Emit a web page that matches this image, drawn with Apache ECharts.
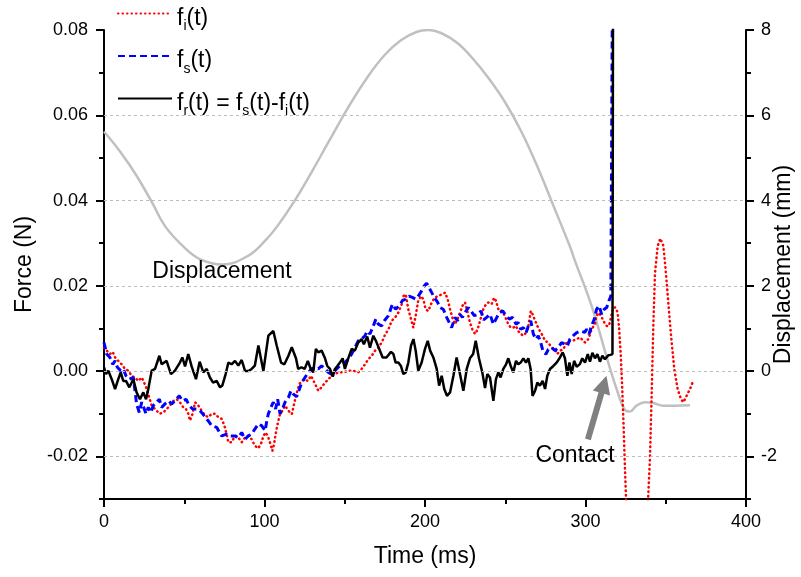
<!DOCTYPE html>
<html>
<head>
<meta charset="utf-8">
<script src="https://cdn.jsdelivr.net/npm/echarts@6/dist/echarts.min.js"></script>
<style>
  html, body { margin: 0; padding: 0; background: #fff; }
  #chart { width: 801px; height: 577px; }
</style>
</head>
<body>
<div id="chart"></div>
<script>
// ---------- data ----------
// f_i(t) (red dotted)
const fiT = [0,1.7,3.7,5.4,6.9,8.9,11,13.1,15.2,17.2,19.3,21.4,23.5,25.5,26.6,28.2,29.7,31.8,34.5,37,39,41.1,43.2,45.3,47.3,49.4,51.1,52.5,53.6,55.2,56.7,58.8,60.9,63,65,67.1,69.2,71.2,73.3,75,76.4,77.5,79.5,81.6,83.7,85.8,87.9,89.9,92,94,96.2,98.2,99.3,100.8,102.4,104,104.9,106,106.9,108.2,109.7,111.1,112.8,114.9,117,119.6,121.7,124.8,126.9,129,131.1,133.5,135.6,137.7,139.8,141.8,143.9,146,149.1,152.2,155.4,158.4,160.5,162.6,164.7,166.8,168.9,171,173,175.1,177.2,179.3,181.4,183.4,185.5,186.6,188,189.6,191.3,192.7,194.2,195.8,197.5,198.9,200.4,202,204.2,206.2,208.3,210.4,212.5,214.1,215.6,217,218.7,220.3,221.8,223.3,224.9,226.6,228,229.5,231.2,232.8,234.3,236.3,238,239.5,241.5,243,244.2,245.7,247.1,248.8,250.5,251.9,253.4,255,256.7,258.1,259.6,261.3,263,264.4,265.9,267.1,268.6,270,271.6,273.3,274.8,276.8,278.9,281,282.4,284.1,286.2,288.2,289.9,292,294.5,296.6,297.6,299.7,301.8,303.8,305.9,306.9,308.4,310.1,311.7,313.2,314.6,315.8,317.3,318.7,320,321,322,322.9,323.8,324.6,325.2,326,332,338,339.1,340.2,341.2,342.2,343.3,345,346.6,348.5,349.9,351.6,353.3,355.3,357.4,359.5,361,363,365.1,367.2];
const fiV = [0.0055,0.0048,0.004,0.0045,0.0032,0.0024,0.0016,0.0005,0.0001,-0.0011,-0.0015,-0.0023,-0.0015,-0.0031,-0.0042,-0.0062,-0.0081,-0.0089,-0.01,-0.0097,-0.0089,-0.0081,-0.007,-0.0066,-0.0073,-0.0085,-0.0089,-0.01,-0.0116,-0.01,-0.0073,-0.0081,-0.0093,-0.0104,-0.0108,-0.01,-0.01,-0.0108,-0.0112,-0.0128,-0.0148,-0.0167,-0.0167,-0.0152,-0.0156,-0.0167,-0.0156,-0.0152,-0.016,-0.0175,-0.0181,-0.0167,-0.0152,-0.0144,-0.0156,-0.0175,-0.0187,-0.0171,-0.0148,-0.0124,-0.01,-0.0093,-0.0081,-0.0093,-0.0101,-0.0058,-0.003,-0.0019,-0.0023,-0.0011,-0.0027,-0.0046,-0.0038,-0.0027,-0.0019,-0.0011,-0.0007,-0.0003,-0.0003,0.0001,0.0001,-0.0003,0.0005,0.0016,0.0028,0.0036,0.0048,0.0055,0.0067,0.0085,0.0098,0.0118,0.0126,0.0137,0.0157,0.0176,0.018,0.0145,0.0122,0.0102,0.013,0.0165,0.0176,0.0169,0.0145,0.0141,0.0161,0.0173,0.0176,0.018,0.0184,0.0169,0.0145,0.0126,0.011,0.0122,0.0137,0.0153,0.0161,0.0137,0.0114,0.0098,0.0087,0.0098,0.0118,0.0145,0.0157,0.0161,0.0157,0.0172,0.0165,0.0145,0.0145,0.0137,0.0122,0.011,0.0102,0.0102,0.0106,0.0094,0.0087,0.0083,0.009,0.0106,0.0141,0.0133,0.0118,0.0106,0.0094,0.0083,0.0071,0.0067,0.0055,0.0051,0.004,0.0048,0.0051,0.0067,0.0071,0.0071,0.0075,0.0079,0.0075,0.0067,0.0075,0.0098,0.011,0.013,0.0137,0.0126,0.0114,0.0106,0.0106,0.011,0.0149,0.0149,0.0137,0.0098,0.0036,-0.0042,-0.0136,-0.023,-0.0292,-0.04,-0.065,-0.04,-0.0292,-0.02,-0.0058,0.0098,0.023,0.0294,0.0311,0.0294,0.0239,0.0161,0.0083,0.0005,-0.0042,-0.0066,-0.0073,-0.0058,-0.0042,-0.0022];

// f_s(t) (blue dashed)
const fsT = [0,1.7,3.7,5.4,6.9,8.3,10.4,12,13.7,15.8,18.3,20.3,22,23.5,24.5,26.2,27.6,29.1,30.7,32.8,34.5,35.9,38,40.1,42.2,44.2,46.9,49,51.1,53.2,55.2,57.7,59.8,61.5,63.5,65,67.1,70.2,73.3,76.4,78.5,81.6,83.7,85.8,87.9,89.9,92,94,96.2,98.2,100.4,101.3,102.4,104,105.5,106.9,108.2,109.7,111.1,112.8,114.9,116.5,118,120,121.5,123.2,125.2,127.3,129.4,131.5,133.5,135.6,137.7,139.8,141.8,143.9,146,148,150.1,152.2,154.3,156.3,158.4,160.5,162.6,164,165.7,167.8,169.4,170.9,173,175,177.2,179.7,181.7,183.8,185.9,188,190,192.1,194.2,195.8,197.9,199.6,201,202.5,204.2,205.8,207.9,209.3,211.4,213.5,215.6,216.6,218.7,220.3,221.8,223.3,224.9,227,228.7,230.7,232.8,234.9,236.5,238.4,240.5,242.6,244.2,246.3,248.4,250.5,252.5,254.6,256.7,258.1,259.6,261.3,263,264.4,265.9,267.5,269.2,270.6,272.1,273.7,275.4,276.8,278.9,281,283,285.1,287.2,288.7,290.3,292.4,294.5,296.6,297.6,299.6,300.7,302.2,303.8,305.5,306.9,308.4,310.1,311.7,313.2,314.6,315.8,316.9];
const fsV = [0.0067,0.004,0.0032,0.0016,0.0024,0.0009,0.0001,0.0005,-0.0011,-0.0019,-0.0015,-0.0077,-0.0097,-0.0073,-0.007,-0.01,-0.0085,-0.0097,-0.0081,-0.0073,-0.0066,-0.0085,-0.0077,-0.007,-0.0077,-0.007,-0.0058,-0.007,-0.0066,-0.0081,-0.0089,-0.0089,-0.0093,-0.01,-0.011,-0.0117,-0.0128,-0.0132,-0.0152,-0.0148,-0.0152,-0.0152,-0.0156,-0.0144,-0.016,-0.0152,-0.0148,-0.0136,-0.0124,-0.0128,-0.014,-0.012,-0.01,-0.0085,-0.0073,-0.0089,-0.0066,-0.01,-0.0089,-0.0073,-0.0062,-0.0046,-0.0054,-0.006,-0.0045,-0.0027,-0.0015,-0.0003,0.0005,0.0009,0.0005,0.0012,0.0005,-0.0003,-0.0007,0.0001,0.0009,0.0016,0.002,0.0028,0.004,0.0055,0.0071,0.0075,0.0083,0.0094,0.0087,0.0106,0.0122,0.011,0.0106,0.012,0.013,0.0157,0.0145,0.0153,0.0165,0.0169,0.0176,0.0173,0.0169,0.0176,0.0188,0.02,0.0206,0.0196,0.0184,0.0173,0.0161,0.0149,0.0145,0.0126,0.011,0.0102,0.0126,0.0118,0.0133,0.0126,0.0137,0.0149,0.0141,0.013,0.0133,0.0141,0.012,0.0126,0.0133,0.011,0.0122,0.0137,0.0141,0.013,0.0122,0.0126,0.011,0.0114,0.0098,0.0102,0.009,0.0106,0.0118,0.0087,0.0075,0.0083,0.0067,0.0044,0.004,0.0051,0.0055,0.0048,0.0055,0.0067,0.0063,0.0059,0.0075,0.0083,0.009,0.0094,0.0098,0.0091,0.0098,0.0087,0.0106,0.0122,0.0145,0.0153,0.0133,0.0145,0.0149,0.0165,0.0176,0.1];

// f_r(t) (black solid)
const frT = [0,1.3,2.7,4.8,6.9,8.9,10.4,12,13.7,15.8,18.3,20.3,22.4,24.5,26.2,27.6,29.7,31.8,34.5,35.9,39,41.7,44.2,47.3,48.8,50.5,52.5,54.6,57.3,59.6,61.9,64,66,68,70.2,72.3,73.7,75.8,77.5,79.5,81.6,83.7,85.8,87.9,90,92,94,96.2,99.3,102.4,105.5,107.6,110.3,112.4,114.9,117,119.6,121,123,125,127,128.8,130.4,132,133.5,135.6,137.7,139.1,140.8,142.5,143.9,145.4,147,148.7,150.1,152.2,154.3,156.3,158.4,160.5,161.9,164,165.7,167.8,169.4,171.5,173.6,176,178.8,180.3,181.7,183.4,185,186.5,188,189.6,191.3,192.8,194.2,195.8,197.9,200,201.7,203.2,205.2,207.3,208.8,210.4,212,213.7,215.6,217.7,219.7,221.8,223.9,226,228,230,231.6,233.6,235.7,237.4,238.8,240.5,242.6,244.2,245.7,247.1,248.8,250.5,251.9,253.4,255,256.7,258.1,259.6,261.3,262.9,264.4,265.8,267,268.6,270,271.6,273.3,274.8,276.2,277.9,280,282,284.1,285.8,287.2,288.7,290,291.4,292.9,294.5,296.6,298,299.7,301.4,302.8,304.3,305.9,307.4,309,310.5,312.1,314.2,315.5,316.8,317.2];
const frV = [0.0009,-0.0007,0.0001,-0.0019,-0.0042,-0.0019,-0.0003,-0.0023,-0.0023,-0.0038,-0.0019,-0.005,-0.0066,-0.005,-0.0066,-0.0042,0.0001,0.0005,0.0036,0.0016,0.0024,-0.0007,0.0001,0.002,0.0032,0.0011,0.004,0.0011,-0.0019,0.0022,-0.0003,0.0005,-0.0015,-0.0027,-0.0023,-0.0038,-0.0034,-0.0007,0.002,0.0016,0.0024,0.0013,0.0026,0,0,0.0005,0.0013,0.006,0,0.0083,0.0094,0.006,0.002,0.0016,0.0036,0.0056,0.003,0.0005,0.0009,0.0005,0.0024,0.0005,-0.0003,0.0052,0.0044,0.0048,0.003,0.0012,0.0005,-0.0013,0.0005,0.0012,0.002,0.003,0.0005,0.003,0.0052,0.0048,0.0067,0.0075,0.0063,0.0081,0.0055,0.0083,0.0071,0.0052,0.0032,0.0032,0.0045,0.004,0.002,0.002,0.0012,-0.0007,-0.0003,0.002,0.006,0.0075,0.0048,0.0001,0.002,0.0052,0.0071,0.0048,0.0032,0.0005,-0.0034,-0.0011,-0.0042,-0.0058,-0.005,-0.0011,0.0032,-0.0007,-0.0046,0.0005,0.003,0.004,0.0071,0.003,-0.0003,-0.004,-0.0007,-0.0015,-0.007,-0.0019,-0.0003,-0.0015,0.0005,0.0016,0.003,0.0012,-0.0003,0.0024,0.0016,0.002,0.003,0.002,0.003,0.0005,-0.0058,-0.0046,-0.0027,-0.0034,-0.0023,-0.0042,-0.0011,0.0005,0.0012,0.002,0.0032,0.0044,0.003,-0.0011,0.002,-0.0007,0.0024,0.001,0.0017,0.003,0.002,0.004,0.0022,0.0043,0.003,0.004,0.0022,0.0036,0.0028,0.0037,0.0038,0.004,0.1];

// Displacement (grey, right axis, mm)
const dispT = [0,10,20,30,38,50,60,74,90,100,108,120,130,140,153,165,175,185,195,202,210,220,230,240,250,260,270,280,290,293.5,303.8,314.2,319.4,324.2,327.7,331.8,337,342.2,348.5,355.8,365.1];
const dispV = [5.62,5.15,4.6,3.95,3.4,2.9,2.62,2.5,2.71,3.04,3.4,4.07,4.71,5.38,6.24,6.94,7.42,7.76,7.96,8.0,7.93,7.7,7.32,6.85,6.3,5.62,4.8,3.88,2.95,2.58,1.53,0.2,-0.42,-0.89,-0.95,-0.81,-0.73,-0.75,-0.81,-0.81,-0.8];

// axis ticks / labels
const forceMajor = [-0.02, 0, 0.02, 0.04, 0.06, 0.08];
const forceMinor = [-0.03, -0.01, 0.01, 0.03, 0.05, 0.07];
const dispMajor = [-2, 0, 2, 4, 6, 8];
const dispMinor = [-3, -1, 1, 3, 5, 7];
const forceGrid = [-0.02, 0, 0.02, 0.04, 0.06];

// annotations (data coordinates)
const annotations = [
  { name: 'Displacement', coord: [73.5, 0.0234] },
  { name: 'Contact', coord: [293.5, -0.0199] }
];
const arrowFrom = [301.5, -0.016];
const arrowTo = [311.5, -0.0031];

// ---------- chart ----------
const FONT = '"Liberation Sans", Arial, sans-serif';
const zip = (a, b) => a.map((x, i) => [x, b[i]]);
const blk = { color: '#000', width: 2 };

const legendText = {
  fi: '{n|f}{s|i}{n|(t)}',
  fs: '{n|f}{s|s}{n|(t)}',
  fr: '{n|f}{s|r}{n|(t) = f}{s|s}{n|(t)-f}{s|i}{n|(t)}'
};

function yAx(pos, min, max, interval, major, minor, fmt, name, gap) {
  return [
    {
      type: 'value', position: pos, min: min, max: max, interval: interval,
      name: name, nameLocation: 'middle', nameGap: gap, nameRotate: 90, nameMoveOverlap: false,
      nameTextStyle: { fontFamily: FONT, fontSize: 23, color: '#000' },
      axisLine: { show: true, onZero: false, lineStyle: blk },
      axisTick: { show: true, length: 8, customValues: major, lineStyle: blk },
      axisLabel: { show: true, customValues: major, formatter: fmt, margin: pos === 'left' ? 16 : 15,
                   fontFamily: FONT, fontSize: 18, color: '#000' },
      splitLine: { show: false }
    },
    {
      type: 'value', position: pos, min: min, max: max, interval: interval,
      axisLine: { show: false, onZero: false },
      axisTick: { show: true, length: 5, customValues: minor, lineStyle: blk },
      axisLabel: { show: false },
      splitLine: { show: false }
    }
  ];
}

const yAxes = [].concat(
  yAx('left', -0.03, 0.08, 0.01, forceMajor, forceMinor, v => Number(v).toFixed(2), 'Force (N)', 68),
  yAx('right', -3, 8, 1, dispMajor, dispMinor, v => String(Math.round(v)), 'Displacement (mm)', 26)
);

const option = {
  animation: false,
  backgroundColor: '#fff',
  grid: { left: 104, right: 55, top: 30, bottom: 78, containLabel: false, outerBoundsMode: 'none' },
  legend: {
    data: ['fi', 'fs', 'fr'],
    orient: 'vertical', left: 117, top: 7, padding: 0,
    itemWidth: 54, itemHeight: 14, itemGap: 16,
    itemStyle: { opacity: 0 },
    formatter: n => legendText[n],
    textStyle: {
      fontFamily: FONT, fontSize: 23, color: '#000', padding: [10, 0, 0, 0],
      rich: {
        n: { fontFamily: FONT, fontSize: 23, lineHeight: 30, color: '#000' },
        s: { fontFamily: FONT, fontSize: 14, lineHeight: 30, verticalAlign: 'bottom', color: '#000' }
      }
    }
  },
  xAxis: {
    type: 'value', min: 0, max: 400, interval: 100, position: 'bottom',
    name: 'Time (ms)', nameLocation: 'middle', nameGap: 46, nameMoveOverlap: false,
    nameTextStyle: { fontFamily: FONT, fontSize: 23, color: '#000' },
    axisLine: { show: true, onZero: false, lineStyle: blk },
    axisTick: { show: true, length: 8, lineStyle: blk },
    minorTick: { show: true, splitNumber: 2, length: 5, lineStyle: blk },
    axisLabel: { margin: 14, fontFamily: FONT, fontSize: 18, color: '#000' },
    splitLine: { show: false }
  },
  yAxis: yAxes,
  series: [
    {
      name: '_grid', type: 'line', data: [], xAxisIndex: 0, yAxisIndex: 0, silent: true,
      markLine: {
        silent: true, symbol: 'none', animation: false, label: { show: false },
        lineStyle: { color: '#bdbdbd', type: [3, 3], width: 1 },
        data: forceGrid.map(v => ({ yAxis: v }))
      }
    },
    {
      name: 'Displacement', type: 'line', xAxisIndex: 0, yAxisIndex: 2,
      data: zip(dispT, dispV), symbol: 'none', smooth: 0.4, silent: true,
      lineStyle: { color: '#c0c0c0', width: 2.5 }, itemStyle: { color: '#c0c0c0' }
    },
    {
      name: 'fi', type: 'line', xAxisIndex: 0, yAxisIndex: 0,
      data: zip(fiT, fiV), symbol: 'none', silent: true,
      lineStyle: { color: '#ff0000', width: 2.5, type: [0.5, 4], cap: 'round' }, itemStyle: { color: '#ff0000' }
    },
    {
      name: 'fs', type: 'line', xAxisIndex: 0, yAxisIndex: 0,
      data: zip(fsT, fsV), symbol: 'none', silent: true,
      lineStyle: { color: '#0000ff', width: 3, type: [7, 4] }, itemStyle: { color: '#0000ff' }
    },
    {
      name: 'fr', type: 'line', xAxisIndex: 0, yAxisIndex: 0,
      data: zip(frT, frV), symbol: 'none', silent: true,
      lineStyle: { color: '#000000', width: 2.5 }, itemStyle: { color: '#000000' }
    },
    {
      name: '_notes', type: 'line', data: [], xAxisIndex: 0, yAxisIndex: 0, silent: true,
      markLine: {
        silent: true, animation: false, symbol: ['none', 'triangle'], symbolSize: 18,
        label: { show: false },
        lineStyle: { color: '#808080', width: 6, type: 'solid' },
        itemStyle: { color: '#808080' },
        data: [[{ coord: arrowFrom }, { coord: arrowTo }]]
      },
      markPoint: {
        silent: true, animation: false, symbol: 'circle', symbolSize: 1,
        itemStyle: { color: 'rgba(0,0,0,0)' },
        label: { show: true, position: 'inside', formatter: p => p.name,
                 fontFamily: FONT, fontSize: 23, color: '#000' },
        data: annotations.map(a => ({ name: a.name, coord: a.coord }))
      }
    }
  ]
};

const chart = echarts.init(document.getElementById('chart'), null, { renderer: 'canvas' });
chart.setOption(option);
</script>
</body>
</html>
